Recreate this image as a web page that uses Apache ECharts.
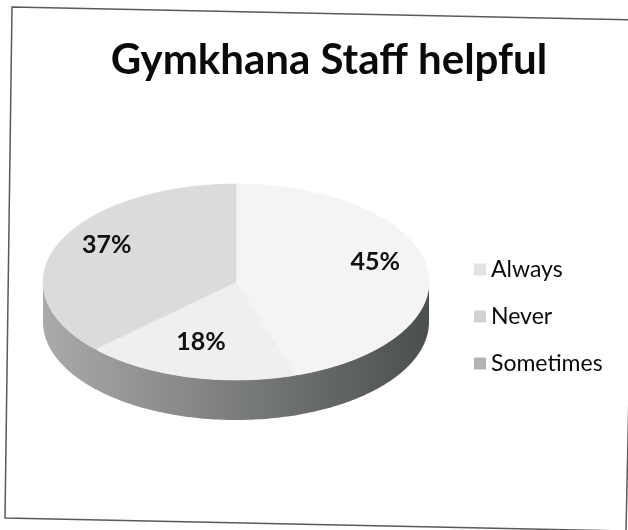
<!DOCTYPE html>
<html>
<head>
<meta charset="utf-8">
<script src="https://cdn.jsdelivr.net/npm/echarts@6/dist/echarts.min.js"></script>
<style>
  html, body { margin: 0; padding: 0; background: #ffffff; }
  #chart { width: 628px; height: 530px; }
</style>
</head>
<body>
<div id="chart"></div>
<script>
// Survey answers: "Is the Gymkhana staff helpful?"
const categories = ['Always', 'Never', 'Sometimes'];
const percents = [45, 18, 37];

// Look of the tilted pie
const topColors = ['#f4f4f4', '#efefef', '#d9dbdc'];
const legendColors = ['#e2e2e2', '#d2d2d2', '#b2b4b4'];
const FONT = 'Lato';

// Ellipse of the pie's upper face and the thickness of its rim
const CX = 236, CY = 282, RX = 193, RY = 98, DEPTH = 40;

const total = percents.reduce((a, b) => a + b, 0);

// angle measured clockwise from 12 o'clock, projected onto the ellipse
function pt(theta, dy) {
  return [CX + RX * Math.sin(theta), CY - RY * Math.cos(theta) + (dy || 0)];
}

function arc(a, b, dy) {
  const pts = [];
  const steps = Math.max(2, Math.ceil((b - a) / (Math.PI / 180)));
  for (let k = 0; k <= steps; k++) pts.push(pt(a + (b - a) * k / steps, dy));
  return pts;
}

const rimGradient = new echarts.graphic.LinearGradient(CX - RX, 0, CX + RX, 0, [
  { offset: 0, color: '#a9abab' },
  { offset: 0.45, color: '#7f8281' },
  { offset: 1, color: '#4b4f4c' }
], true);

function makeSlice(i) {
  return {
    type: 'custom',
    name: categories[i],
    coordinateSystem: 'none',
    itemStyle: { color: legendColors[i] },
    data: [[percents[i]]],
    renderItem: function (params, api) {
      const value = api.value(0);
      let before = 0;
      for (let k = 0; k < i; k++) before += percents[k];
      const start = before / total * 2 * Math.PI;
      const end = start + value / total * 2 * Math.PI;
      const children = [];

      // visible part of the rim lies on the near half of the ellipse;
      // neighbouring pieces overlap a hair so no seam shows
      const a = Math.max(start - 0.01, Math.PI / 2);
      const b = Math.min(end + 0.01, 3 * Math.PI / 2);
      if (a < b) {
        const wall = arc(a, b, 0).concat(arc(a, b, DEPTH).reverse());
        children.push({
          type: 'polygon',
          shape: { points: wall },
          style: { fill: rimGradient }
        });
      }

      const face = [[CX, CY]].concat(arc(start, end, 0));
      children.push({
        type: 'polygon',
        shape: { points: face },
        style: { fill: topColors[i], stroke: topColors[i], lineWidth: 0.6 }
      });

      const mid = (start + end) / 2;
      const lp = [CX + RX * 0.73 * Math.sin(mid), CY - RY * 0.73 * Math.cos(mid) - 9];
      children.push({
        type: 'text',
        x: lp[0], y: lp[1],
        style: {
          text: value + '%',
          fill: '#111111',
          font: 'bold 25px ' + FONT,
          align: 'center',
          verticalAlign: 'middle'
        }
      });
      return { type: 'group', children: children };
    }
  };
}

const chart = echarts.init(document.getElementById('chart'), null, { renderer: 'canvas' });
chart.setOption({
  backgroundColor: '#ffffff',
  animation: false,
  title: {
    text: 'Gymkhana Staff helpful',
    left: 324,
    textAlign: 'center',
    top: 34,
    textStyle: { fontFamily: FONT, fontWeight: 'bold', fontSize: 42, color: '#0a0a0a' }
  },
  legend: {
    orient: 'vertical',
    left: 469,
    top: 252,
    itemWidth: 12,
    itemHeight: 12,
    itemGap: 22,
    icon: 'rect',
    data: categories,
    textStyle: { fontFamily: FONT, fontSize: 23, color: '#0a0a0a', lineHeight: 25 }
  },
  graphic: [{
    type: 'polygon',
    silent: true,
    shape: { points: [[12, 7], [637, 20], [626, 531], [5, 518]] },
    style: { fill: 'none', stroke: '#5a5a5a', lineWidth: 1.5 }
  }],
  series: categories.map((c, i) => makeSlice(i))
});
</script>
</body>
</html>
